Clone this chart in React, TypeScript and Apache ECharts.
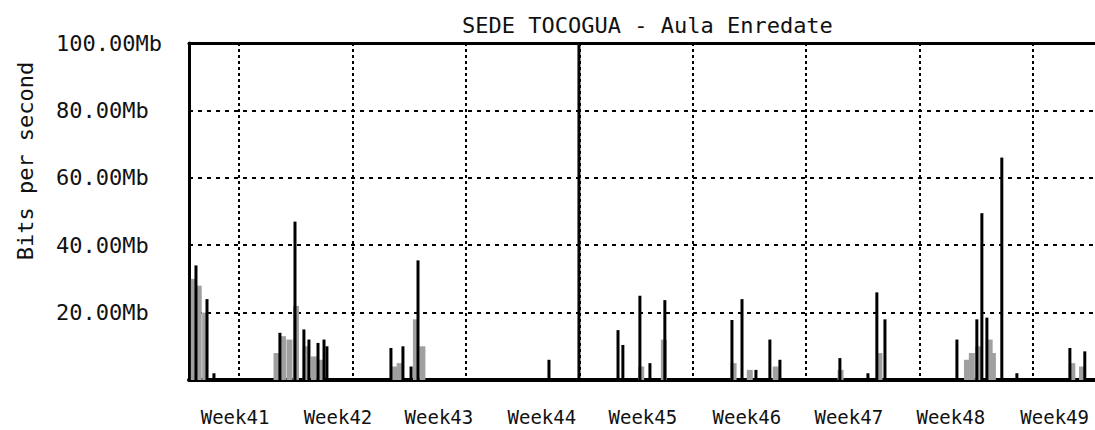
import { useEffect, useRef } from "react";
import * as echarts from "echarts";

const MONO = "'DejaVu Sans Mono', 'Liberation Mono', monospace";

const TITLE = "SEDE TOCOGUA - Aula Enredate";
const Y_NAME = "Bits per second";

// x domain in days from the left edge of the plot
const X_MIN = 0;
const X_MAX = 55.9;

// vertical (dotted) grid lines, one per week
const gridDays = [3.08, 10.08, 17.08, 24.08, 31.08, 38.08, 45.08, 52.08];

// week labels and their positions
const weekLabels = ["Week41", "Week42", "Week43", "Week44", "Week45", "Week46", "Week47", "Week48", "Week49"];
const weekLabelDays = [2.84, 9.19, 15.42, 21.77, 28.0, 34.42, 40.71, 47.0, 53.41];

// y axis (Mb/s)
const Y_MIN = 0;
const Y_MAX = 100;
const Y_STEP = 20;

// outgoing traffic (black spikes)
const outDays = [0.43, 1.11, 1.54, 5.61, 6.54, 7.09, 7.4, 7.96, 8.33, 8.51, 12.46, 13.2, 13.7, 14.13, 22.21, 24.06,
  26.47, 26.77, 27.82, 28.44, 29.36, 33.5, 34.12, 34.98, 35.84, 36.46, 40.16, 41.89, 42.44, 42.94, 47.38, 48.61,
  48.92, 49.23, 50.15, 51.08, 54.35, 55.27];
const outValues = [34, 24, 2, 14, 47, 15, 12, 11, 12, 10, 9.5, 10, 4, 35.5, 6, 100,
  14.8, 10.4, 25, 5, 23.7, 17.8, 24, 3, 12, 6, 6.5, 2, 26, 18, 12, 18,
  49.5, 18.5, 66, 2, 9.5, 8.5];

// incoming traffic (grey filled)
const inDays = [0.3, 0.6, 1.0, 5.4, 5.8, 6.2, 6.6, 7.2, 7.7, 8.2, 12.7, 13.0, 14.0, 14.4, 27.9, 29.3,
  33.6, 34.6, 36.2, 40.2, 42.6, 48.0, 48.3, 48.7, 49.4, 49.6, 54.5, 55.1];
const inValues = [30, 28, 20, 8, 13, 12, 22, 10, 7, 6, 4, 5, 18, 10, 4, 12,
  5, 3, 4, 3, 8, 6, 8, 10, 12, 8, 5, 4];

export default function App() {
  const ref = useRef<HTMLDivElement>(null);

  useEffect(() => {
    if (!ref.current) return;
    const chart = echarts.init(ref.current, null, { renderer: "svg" });
    const labelFor = (v: number) => {
      let best = 0;
      let bd = Infinity;
      weekLabelDays.forEach((d, i) => {
        const dd = Math.abs(d - v);
        if (dd < bd) { bd = dd; best = i; }
      });
      return weekLabels[best];
    };
    chart.setOption({
      animation: false,
      backgroundColor: "#ffffff",
      title: {
        text: TITLE,
        left: 457,
        top: 9,
        textStyle: { fontFamily: MONO, fontSize: 22, fontWeight: "normal", color: "#111" },
      },
      grid: { left: 189, right: 0, top: 43, bottom: 50 },
      xAxis: [
        {
          type: "value",
          min: X_MIN,
          max: X_MAX,
          position: "bottom",
          axisLine: { show: true, onZero: false, lineStyle: { color: "#000", width: 4 } },
          axisTick: { show: false, customValues: gridDays },
          splitLine: { show: true, lineStyle: { color: "#000", width: 2, type: [3, 3] } },
          axisLabel: {
            customValues: weekLabelDays,
            formatter: (v: number) => labelFor(v),
            margin: 27,
            fontFamily: MONO,
            fontSize: 19,
            color: "#111",
          },
        },
        {
          type: "value",
          min: X_MIN,
          max: X_MAX,
          position: "top",
          axisLine: { show: true, onZero: false, lineStyle: { color: "#000", width: 3 } },
          axisTick: { show: false },
          axisLabel: { show: false },
          splitLine: { show: false },
        },
      ],
      yAxis: {
        type: "value",
        min: Y_MIN,
        max: Y_MAX,
        interval: Y_STEP,
        axisLine: { show: true, lineStyle: { color: "#000", width: 3 } },
        axisTick: { show: false },
        splitLine: { show: true, lineStyle: { color: "#000", width: 2, type: [4, 5] } },
        axisLabel: {
          formatter: (v: number) => (v === 0 ? "" : v.toFixed(2) + "Mb"),
          align: "left",
          margin: 133,
          padding: [5, 0, 0, 0],
          fontFamily: MONO,
          fontSize: 22,
          color: "#111",
        },
      },
      graphic: [
        {
          type: "text",
          x: 25,
          y: 161,
          rotation: Math.PI / 2,
          style: {
            text: Y_NAME,
            font: `22px ${MONO}`,
            fill: "#111",
            textAlign: "center",
            textVerticalAlign: "middle",
          },
        },
      ],
      series: [
        {
          name: "In",
          type: "bar",
          xAxisIndex: 1,
          barWidth: 6,
          itemStyle: { color: "#a0a0a0" },
          data: inDays.map((d, i) => [d, inValues[i]]),
        },
        {
          name: "Out",
          type: "bar",
          xAxisIndex: 0,
          barWidth: 3,
          itemStyle: { color: "#000" },
          data: outDays.map((d, i) => [d, outValues[i]]),
        },
      ],
    });
    return () => chart.dispose();
  }, []);

  return (
    <div
      ref={ref}
      style={{ position: "absolute", left: 0, top: 0, width: 1095, height: 430, background: "#fff" }}
    />
  );
}
